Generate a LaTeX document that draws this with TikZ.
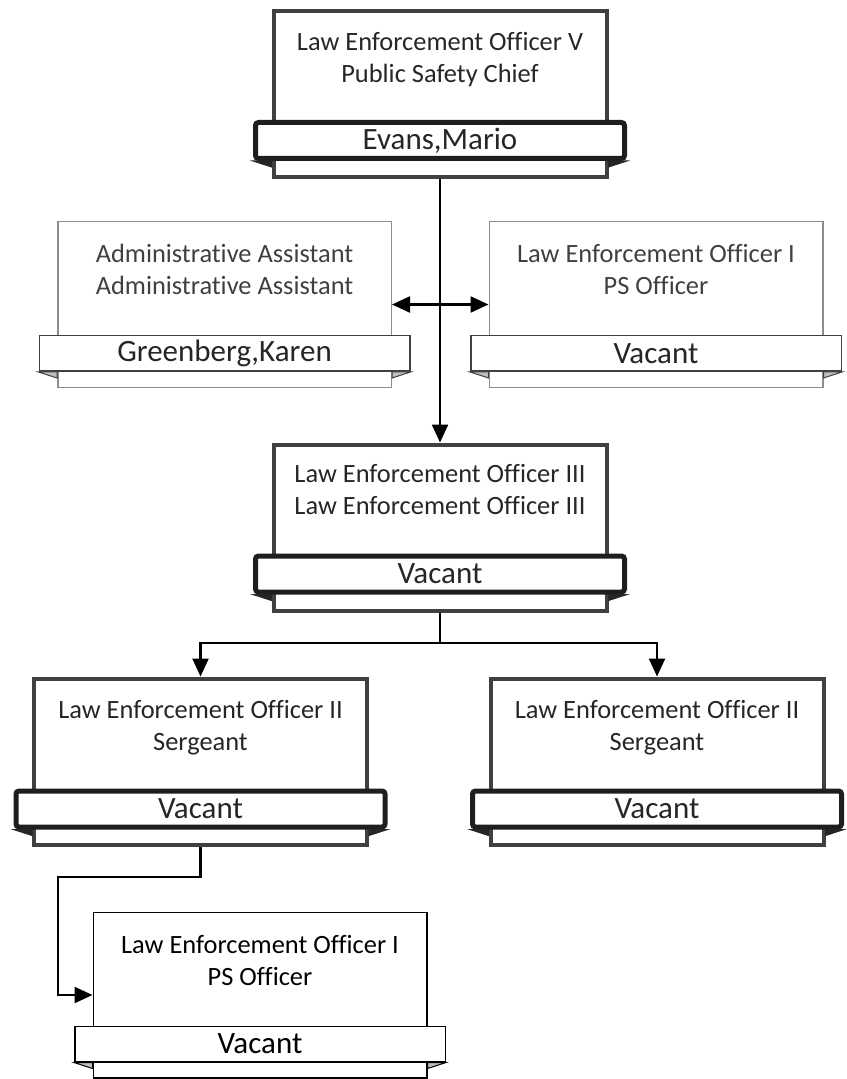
\documentclass[tikz,border=0pt]{standalone}
\usepackage{fontspec}
\setmainfont{Carlito}[Ligatures=NoCommon]
\usetikzlibrary{positioning,arrows.meta}
\definecolor{OrgLine}{HTML}{404040}
\definecolor{OrgBanner}{HTML}{1E1E1E}
\definecolor{OrgFold}{HTML}{262626}
\definecolor{OrgGrey}{HTML}{8C8C8C}
\definecolor{OrgFoldLight}{HTML}{BFBFBF}
\definecolor{OrgText}{HTML}{262626}

\begin{document}
\begin{tikzpicture}[x=0.5pt, y=-0.5pt,
  post/.style={rectangle, draw=OrgLine, line width=2pt, fill=white,
               minimum width=166.5pt, minimum height=83pt, inner sep=0pt},
  postlight/.style={post, draw=OrgGrey, line width=0.75pt,
               minimum width=166.75pt, minimum height=82.75pt},
  postplain/.style={postlight, draw=black},
  banner/.style={rectangle, rounded corners=1.5pt, draw=OrgBanner, line width=2.5pt,
               fill=white, minimum width=184.5pt, minimum height=18pt, inner sep=0pt,
               font=\fontsize{15.5}{18}\selectfont, text=OrgText},
  bannerlight/.style={banner, rounded corners=0pt, draw=OrgLine, line width=0.75pt,
               minimum width=185.25pt, minimum height=17.75pt},
  bannerplain/.style={bannerlight, draw=black, text=black},
  title/.style={font=\fontsize{13.2}{16}\selectfont, text=OrgText, align=center, inner sep=0pt},
  fold/.style={fill=OrgFold, draw=OrgFold, line width=0.5pt},
  foldlight/.style={fill=OrgFoldLight, draw=OrgLine, line width=0.5pt},
  foldplain/.style={fill=OrgFoldLight, draw=black, line width=0.5pt},
  link/.style={line width=1.2pt},
  arr/.style={link, -{Triangle[length=9pt,width=8pt]}},
  darr/.style={link, {Triangle[length=9pt,width=8pt]}-{Triangle[length=9pt,width=8pt]}}
]
  \useasboundingbox (0,0) rectangle (846,1079);

  % position boxes
  \node[post]      (chief) at (440,   94)   {};
  \node[postlight] (admin) at (224.5, 304.5) {};
  \node[postlight] (off1)  at (656,   304.5) {};
  \node[post]      (leo3)  at (440,   527.5) {};
  \node[post]      (sgtL)  at (200.5, 761.5) {};
  \node[post]      (sgtR)  at (657,   761.5) {};
  \node[postplain] (off2)  at (260,   995)   {};

  % job titles
  \node[title, below=11.5pt of chief.north] {Law Enforcement Officer V\\Public Safety Chief};
  \node[title, text=OrgLine, below=11.5pt of admin.north] {Administrative Assistant\\Administrative Assistant};
  \node[title, text=OrgLine, below=11.5pt of off1.north] {Law Enforcement Officer I\\PS Officer};
  \node[title, below=10.5pt of leo3.north] {Law Enforcement Officer III\\Law Enforcement Officer III};
  \node[title, below=11.5pt of sgtL.north] {Law Enforcement Officer II\\Sergeant};
  \node[title, below=11.5pt of sgtR.north] {Law Enforcement Officer II\\Sergeant};
  \node[title, text=black, below=11.5pt of off2.north] {Law Enforcement Officer I\\PS Officer};

  % name banners
  \node[banner, above=9pt of chief.south]      (chief-name) {Evans,Mario};
  \node[bannerlight, above=8pt of admin.south] (admin-name) {Greenberg,Karen};
  \node[bannerlight, above=8pt of off1.south]  (off1-name)  {Vacant};
  \node[banner, above=9pt of leo3.south]       (leo3-name)  {Vacant};
  \node[banner, above=8.5pt of sgtL.south]     (sgtL-name)  {Vacant};
  \node[banner, above=8.5pt of sgtR.south]     (sgtR-name)  {Vacant};
  \node[bannerplain, above=8pt of off2.south]  (off2-name)  {Vacant};

  % banner folds
  \foreach \p/\f in {chief/fold, leo3/fold, sgtL/fold, sgtR/fold,
                     admin/foldlight, off1/foldlight, off2/foldplain}{
    \filldraw[\f] (\p-name.south west) -- (\p.west |- \p-name.south) -- ++(0,6) -- cycle;
    \filldraw[\f] (\p-name.south east) -- (\p.east |- \p-name.south) -- ++(0,6) -- cycle;
  }

  % reporting lines
  \coordinate (split) at (440,643);
  \coordinate (jog)   at (58,877);
  \draw[arr]  (chief) -- (leo3);
  \draw[darr] (admin) -- (off1);
  \draw[link] (leo3) -- (split);
  \draw[arr]  (split) -| (sgtL);
  \draw[arr]  (split) -| (sgtR);
  \draw[arr]  (sgtL) |- (jog) |- (off2);
\end{tikzpicture}
\end{document}
